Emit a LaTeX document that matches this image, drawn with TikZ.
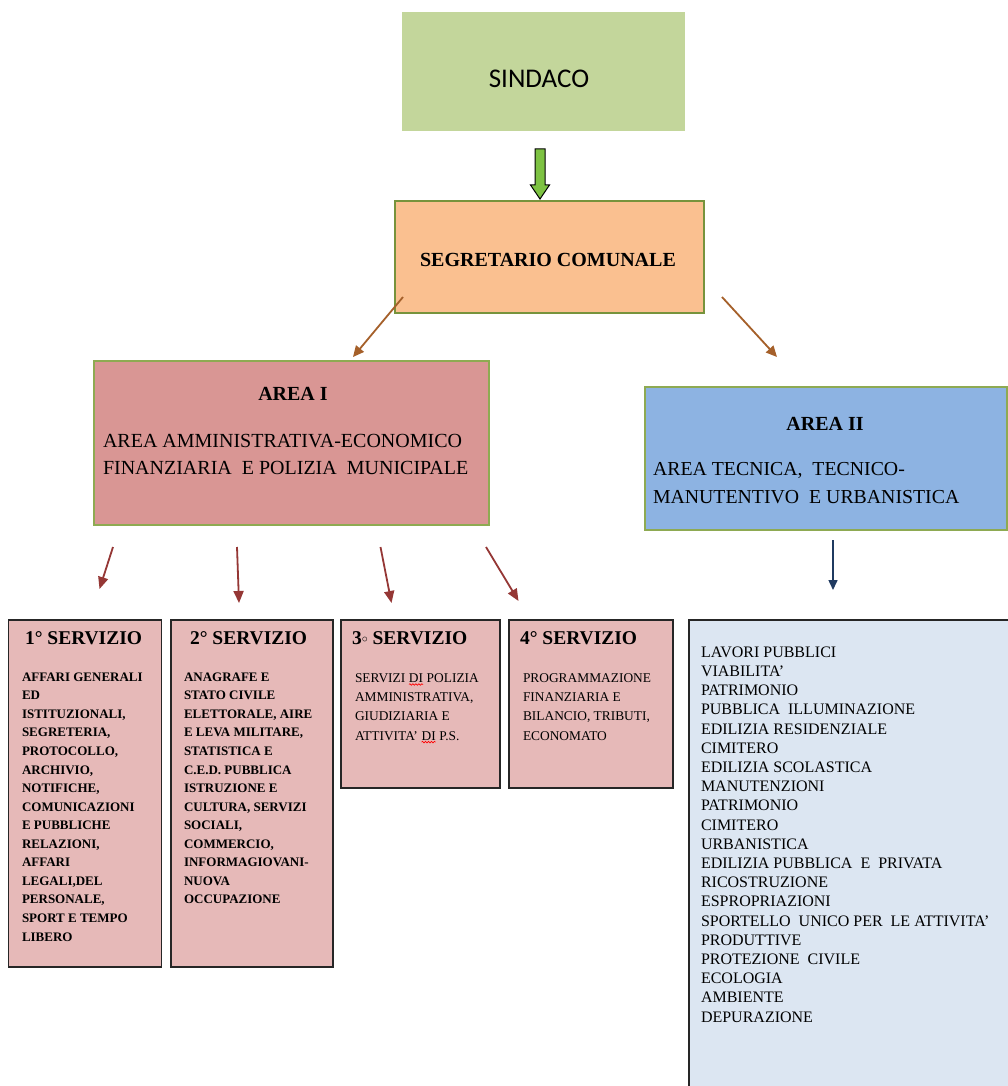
\documentclass[tikz,border=0pt]{standalone}
\usepackage{fontspec}
\setmainfont{Liberation Serif}
\newfontfamily\calibrifont{Carlito}
\usetikzlibrary{arrows.meta,decorations.pathmorphing}

\definecolor{sindacoC}{HTML}{C3D69B}
\definecolor{segC}{HTML}{FAC090}
\definecolor{areaIC}{HTML}{D99694}
\definecolor{areaIIC}{HTML}{8DB3E2}
\definecolor{servC}{HTML}{E6B9B8}
\definecolor{listC}{HTML}{DCE6F2}
\definecolor{greenBorder}{HTML}{77933C}
\definecolor{areaBorder}{HTML}{8EAA52}
\definecolor{darkBorder}{HTML}{262626}
\definecolor{brownArr}{HTML}{A5602A}
\definecolor{redArr}{HTML}{953735}
\definecolor{blueArr}{HTML}{1F3A60}
\definecolor{blockGreen}{HTML}{7DC242}

\newcommand\squigword[1]{\tikz[baseline=(sq.base),x=1pt,y=1pt]{\node[inner sep=0pt,outer sep=0pt](sq){#1};\draw[red,line width=0.6pt,decorate,decoration={snake,amplitude=0.8pt,segment length=3pt}] ([yshift=-2pt]sq.south west) -- ([yshift=-2pt]sq.south east);}}

\begin{document}
\begin{tikzpicture}[x=1pt,y=-1pt,
  box/.style={anchor=north west, inner sep=0pt, outer sep=0pt},
  servbox/.style={box, draw=darkBorder, line width=1.6pt, fill=servC},
  txt/.style={inner sep=0pt, outer sep=0pt, align=left},
  servtitle/.style={txt, anchor=west, font=\bfseries\fontsize{19.5}{22}\selectfont},
  servbodyb/.style={txt, anchor=north west, font=\bfseries\fontsize{13}{18.55}\selectfont},
  servbodyr/.style={txt, anchor=north west, font=\fontsize{13.4}{19.2}\selectfont},
  brownarrow/.style={draw=brownArr, line width=1.8pt, -{Triangle[length=11pt,width=10pt]}},
  redarrow/.style={draw=redArr, line width=1.8pt, -{Triangle[length=12pt,width=10pt]}},
  bluearrow/.style={draw=blueArr, line width=1.5pt, -{Triangle[length=10pt,width=9pt]}}
]
\useasboundingbox (0,0) rectangle (1008,1086);
\clip (0,0) rectangle (1008,1086);
\fill[white] (0,0) rectangle (1008,1086);

% SINDACO
\node[box, fill=sindacoC, minimum width=283pt, minimum height=119pt] (sindaco) at (402,12) {};
\node[txt, font=\calibrifont\fontsize{27}{30}\selectfont] (sindacotxt) at (539,79) {SINDACO};

% block arrow
\coordinate (ga) at (540,149);
\draw[fill=blockGreen, draw=black, line width=1pt, line join=miter]
  ([xshift=-5pt]ga) -- ([xshift=5pt]ga) -- ([xshift=5pt,yshift=-36pt]ga) -- ([xshift=9.5pt,yshift=-36pt]ga)
  -- ([yshift=-50pt]ga) -- ([xshift=-9.5pt,yshift=-36pt]ga) -- ([xshift=-5pt,yshift=-36pt]ga) -- cycle;

% SEGRETARIO
\node[box, fill=segC, draw=greenBorder, line width=1.5pt, minimum width=309pt, minimum height=112pt] (seg) at (395,201) {};
\node[txt, font=\bfseries\fontsize{20}{22}\selectfont] (segtxt) at (548,260) {SEGRETARIO COMUNALE};

% arrows from SEGRETARIO
\coordinate (b1s) at (403,297);
\coordinate (b1e) at (353,357);
\coordinate (b2s) at (722,297);
\coordinate (b2e) at (777,357);
\draw[brownarrow] (b1s) -- (b1e);
\draw[brownarrow] (b2s) -- (b2e);

% AREA I
\node[box, fill=areaIC, draw=areaBorder, line width=1.5pt, minimum width=395pt, minimum height=164pt] (areaI) at (94,361) {};
\node[txt, font=\bfseries\fontsize{20}{22}\selectfont] (areaItitle) at (293,394) {AREA I};
\node[txt, anchor=north west, font=\fontsize{20}{27}\selectfont] (areaItxt) at (103,434.4)
  {AREA AMMINISTRATIVA-ECONOMICO\\FINANZIARIA\ \ E POLIZIA\ \ MUNICIPALE};

% AREA II
\node[box, fill=areaIIC, draw=areaBorder, line width=1.5pt, minimum width=362pt, minimum height=143pt] (areaII) at (645,387) {};
\node[txt, font=\bfseries\fontsize{20}{22}\selectfont] (areaIItitle) at (825,424) {AREA II};
\node[txt, anchor=north west, font=\fontsize{19.8}{28}\selectfont] (areaIItxt) at (653,462.4)
  {AREA TECNICA,\ \ TECNICO-\\MANUTENTIVO\ \ E URBANISTICA};

% red arrows
\coordinate (r1s) at (113,547); \coordinate (r1e) at (99.5,589);
\coordinate (r2s) at (237,547); \coordinate (r2e) at (239,603);
\coordinate (r3s) at (380.5,547); \coordinate (r3e) at (391.5,603);
\coordinate (r4s) at (486,547); \coordinate (r4e) at (518.5,601);
\draw[redarrow] (r1s) -- (r1e);
\draw[redarrow] (r2s) -- (r2e);
\draw[redarrow] (r3s) -- (r3e);
\draw[redarrow] (r4s) -- (r4e);

% blue arrow
\coordinate (bls) at (833,540); \coordinate (ble) at (833,590);
\draw[bluearrow] (bls) -- (ble);

% servizio boxes
\node[servbox, minimum width=153pt, minimum height=347pt] (s1) at (8.5,620) {};
\node[servbox, minimum width=162pt, minimum height=347pt] (s2) at (171,620) {};
\node[servbox, minimum width=159pt, minimum height=168pt] (s3) at (341,620) {};
\node[servbox, minimum width=164pt, minimum height=168pt] (s4) at (509,620) {};

\node[servtitle] (s1title) at (25,638) {1° SERVIZIO};
\node[servtitle] (s2title) at (190,638) {2° SERVIZIO};
\node[servtitle] (s3title) at (352,638) {3\raisebox{1.5pt}{\fontsize{12}{12}\selectfont$\circ$} SERVIZIO};
\node[servtitle] (s4title) at (520,638) {4° SERVIZIO};

\node[servbodyb] (s1txt) at (22,672.7) {AFFARI GENERALI\\ED\\ISTITUZIONALI,\\SEGRETERIA,\\PROTOCOLLO,\\ARCHIVIO,\\NOTIFICHE,\\COMUNICAZIONI\\E PUBBLICHE\\RELAZIONI,\\AFFARI\\LEGALI,DEL\\PERSONALE,\\SPORT E TEMPO\\LIBERO};
\node[servbodyb] (s2txt) at (184,672.7) {ANAGRAFE E\\STATO CIVILE\\ELETTORALE, AIRE\\E LEVA MILITARE,\\STATISTICA E\\C.E.D. PUBBLICA\\ISTRUZIONE E\\CULTURA, SERVIZI\\SOCIALI,\\COMMERCIO,\\INFORMAGIOVANI-\\NUOVA\\OCCUPAZIONE};
\node[servbodyr] (s3txt) at (355,673.6) {SERVIZI \squigword{DI} POLIZIA\\AMMINISTRATIVA,\\GIUDIZIARIA E\\ATTIVITA' \squigword{DI} P.S.};
\node[servbodyr] (s4txt) at (523,673.6) {PROGRAMMAZIONE\\FINANZIARIA E\\BILANCIO, TRIBUTI,\\ECONOMATO};

% list box
\node[box, fill=listC, draw=darkBorder, line width=1.5pt, minimum width=340pt, minimum height=490pt] (list) at (689,620) {};
\node[txt, anchor=north west, font=\fontsize{16}{19.2}\selectfont] (listtxt) at (701,646.7)
  {LAVORI PUBBLICI\\VIABILITA'\\PATRIMONIO\\PUBBLICA\ \ ILLUMINAZIONE\\EDILIZIA RESIDENZIALE\\CIMITERO\\EDILIZIA SCOLASTICA\\MANUTENZIONI\\PATRIMONIO\\CIMITERO\\URBANISTICA\\EDILIZIA PUBBLICA\ \ E\ \ PRIVATA\\RICOSTRUZIONE\\ESPROPRIAZIONI\\SPORTELLO\ \ UNICO PER\ \ LE ATTIVITA'\\PRODUTTIVE\\PROTEZIONE\ \ CIVILE\\ECOLOGIA\\AMBIENTE\\DEPURAZIONE};

\end{tikzpicture}
\end{document}
